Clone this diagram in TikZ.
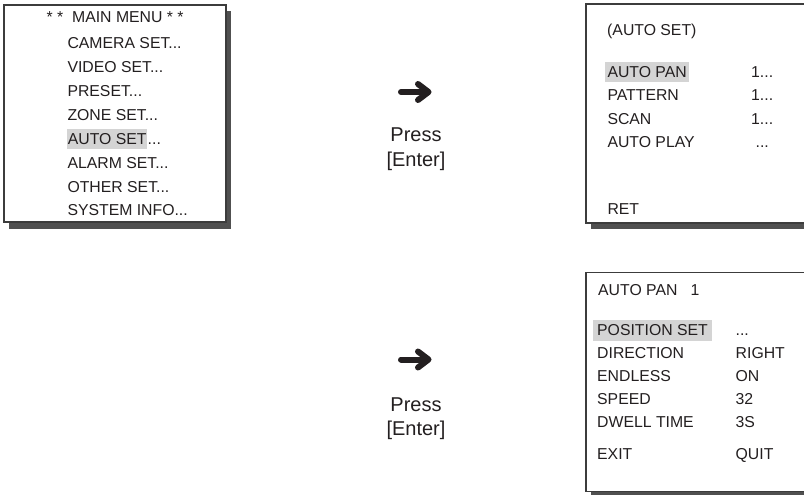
\documentclass[tikz,border=0pt]{standalone}
\usepackage{fontspec}
\setmainfont{Liberation Sans}
\usetikzlibrary{positioning}
\definecolor{menuink}{RGB}{35,31,32}
\definecolor{menuframe}{RGB}{60,60,60}
\definecolor{menushade}{RGB}{80,80,80}
\definecolor{menuhl}{RGB}{212,212,212}
\tikzset{
    menubox/.style={draw=menuframe, fill=white, line width=1.1pt},
    menushadow/.style={fill=menushade},
    menuitem/.style={anchor=base west, inner sep=0pt, text=menuink, font=\fontsize{15.8}{19}\selectfont},
    hlitem/.style={menuitem, fill=menuhl, inner xsep=2.2pt, inner ysep=0.5pt, text height=14.5pt, text depth=4pt},
    presslabel/.style={anchor=base, inner sep=0pt, text=menuink, font=\fontsize{20}{24}\selectfont},
    enterarrow/.style={line width=6pt, line cap=round, line join=round, menuink},
}
\begin{document}
\begin{tikzpicture}[x=1pt, y=-1pt]
    \path[use as bounding box, clip] (0,0) rectangle (804,495);

    % Main menu
    \fill[menushadow] (8.5,11) rectangle (230.5,228.5);
    \draw[menubox] (4,5) rectangle (226,222);
    \node[menuitem] (mTitle) at (46.5,23) {* *\ \ MAIN MENU * *};
    \node[menuitem] (mCamera) at (67.3,48.6) {CAMERA SET...};
    \node[menuitem] (mVideo) at (67.3,72.5) {VIDEO SET...};
    \node[menuitem] (mPreset) at (67.3,96.4) {PRESET...};
    \node[menuitem] (mZone) at (67.3,120.3) {ZONE SET...};
    \node[hlitem, inner xsep=0.7pt] (mAuto) at (67,144.2) {AUTO SET};
    \node[menuitem] (mAutoDots) at (mAuto.base east) {...};
    \node[menuitem] (mAlarm) at (67.3,168.1) {ALARM SET...};
    \node[menuitem] (mOther) at (67.3,192) {OTHER SET...};
    \node[menuitem] (mSystem) at (67.3,215.9) {SYSTEM INFO...};

    % First step
    \draw[enterarrow] (401,92) -- (427,92);
    \draw[enterarrow] (418,84) -- (428.5,92) -- (418,100);
    \node[presslabel] (press1) at (416,141.7) {Press};
    \node[presslabel] (enter1) at (416,166) {[Enter]};

    % Auto set menu
    \fill[menushadow] (590.5,10) rectangle (820,229);
    \draw[menubox] (586,4) rectangle (815,223);
    \node[menuitem] (aTitle) at (607,36) {(AUTO SET)};
    \node[hlitem] (aPan) at (605.1,77.3) {AUTO PAN};
    \node[menuitem] (aPattern) at (607.3,100.7) {PATTERN};
    \node[menuitem] (aScan) at (607.3,124.1) {SCAN};
    \node[menuitem] (aPlay) at (607.3,147.5) {AUTO PLAY};
    \node[menuitem] (aRet) at (607.3,214.8) {RET};
    \node[menuitem] (aPanVal) at (751,77.3) {1...};
    \node[menuitem] (aPatternVal) at (751,100.7) {1...};
    \node[menuitem] (aScanVal) at (751,124.1) {1...};
    \node[menuitem] (aPlayVal) at (755.5,147.5) {...};

    % Second step
    \draw[enterarrow] (401,359.5) -- (427,359.5);
    \draw[enterarrow] (418,351.5) -- (428.5,359.5) -- (418,367.5);
    \node[presslabel] (press2) at (416,411.5) {Press};
    \node[presslabel] (enter2) at (416,435.8) {[Enter]};

    % Auto pan menu
    \fill[menushadow] (590.5,278) rectangle (820,498);
    \draw[menubox] (586,272.3) rectangle (815,491.7);
    \node[menuitem] (pTitle) at (598,295.5) {AUTO PAN\ \ \ 1};
    \node[hlitem, inner xsep=4pt, inner ysep=1.5pt] (pPos) at (593,335.7) {POSITION SET\hspace{3.4pt}};
    \node[menuitem] (pDir) at (597,358.6) {DIRECTION};
    \node[menuitem] (pEndless) at (597,381.5) {ENDLESS};
    \node[menuitem] (pSpeed) at (597,404.2) {SPEED};
    \node[menuitem] (pDwell) at (597,427.4) {DWELL TIME};
    \node[menuitem] (pExit) at (597,459) {EXIT};
    \node[menuitem] (pPosVal) at (735.5,335.7) {...};
    \node[menuitem] (pDirVal) at (735.5,358.6) {RIGHT};
    \node[menuitem] (pEndlessVal) at (735.5,381.5) {ON};
    \node[menuitem] (pSpeedVal) at (735.5,404.2) {32};
    \node[menuitem] (pDwellVal) at (735.5,427.4) {3S};
    \node[menuitem] (pExitVal) at (735.5,459) {QUIT};
\end{tikzpicture}
\end{document}
